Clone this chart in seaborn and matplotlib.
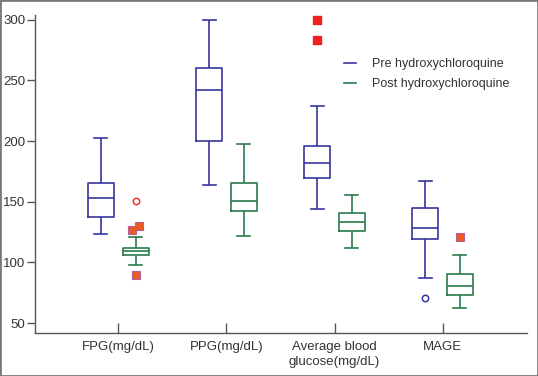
import numpy as np
import pandas as pd
import matplotlib
matplotlib.use("Agg")
import matplotlib.pyplot as plt
from matplotlib.lines import Line2D
from matplotlib.patches import Rectangle
import seaborn as sns

# ---- data (mg/dL) ----
measures = ["FPG(mg/dL)", "PPG(mg/dL)", "Average blood\nglucose(mg/dL)", "MAGE"]
phases = ["Pre hydroxychloroquine", "Post hydroxychloroquine"]

# five-number summaries: whisker low, Q1, median, Q3, whisker high
pre_low = [123.4, 163.9, 143.8, 86.9]
pre_q1 = [137.2, 200.0, 169.6, 119.6]
pre_med = [152.9, 242.5, 182.3, 128.4]
pre_q3 = [165.8, 260.1, 196.0, 145.1]
pre_high = [202.4, 300.0, 229.0, 166.9]

post_low = [97.6, 121.8, 112.2, 62.1]
post_q1 = [105.8, 142.4, 125.9, 73.4]
post_med = [109.8, 150.4, 133.6, 80.8]
post_q3 = [112.2, 165.8, 140.8, 90.4]
post_high = [120.7, 197.7, 155.6, 105.8]

# outside values: measure index, phase index, value, kind
out_measure = [0, 0, 0, 0, 2, 2, 3, 3]
out_phase = [1, 1, 1, 1, 0, 0, 0, 1]
out_value = [150.4, 127.0, 130.0, 89.4, 299.5, 283.0, 70.4, 121.0]
out_kind = ["circle", "square", "square", "square", "far", "far", "circle", "square"]
out_shift = [0, -0.035, 0.03, 0, 0, 0, 0, 0]

blue = "#36369e"
green = "#2b7a4b"
colors = [blue, green]

rows = []
for i, m in enumerate(measures):
    for v in [pre_low[i], pre_q1[i], pre_med[i], pre_q3[i], pre_high[i]]:
        rows.append((m, phases[0], v))
    for v in [post_low[i], post_q1[i], post_med[i], post_q3[i], post_high[i]]:
        rows.append((m, phases[1], v))
df = pd.DataFrame(rows, columns=["measure", "phase", "value"])

plt.rcParams["font.family"] = ["Liberation Sans", "DejaVu Sans"]

fig = plt.figure(figsize=(5.38, 3.76), dpi=100)
ax = fig.add_axes([35 / 538, 43 / 376, 492 / 538, 318 / 376])

width = 0.64
gap = 0.25
sns.boxplot(data=df, x="measure", y="value", hue="phase", order=measures,
            hue_order=phases, palette=colors, fill=False, width=width, gap=gap,
            whis=(0, 100), linewidth=1.2, legend=False, ax=ax)

# outside values
offsets = [-width / 4, width / 4]
for mi, pi, v, k, s in zip(out_measure, out_phase, out_value, out_kind, out_shift):
    x = mi + offsets[pi] + s
    if k == "circle":
        c = "#ee3333" if pi == 1 else blue
        ax.plot(x, v, marker="o", ms=4.6, mfc="white", mec=c, mew=1.1, ls="none")
    elif k == "square":
        ax.plot(x, v, marker="s", ms=5.2, mfc="#ef5a1e", mec="#b0609a", mew=0.8, ls="none")
    else:
        ax.plot(x, v, marker="s", ms=5.5, mfc="#ee2020", mec="#ee2020", ls="none")

ax.set_xlim(-0.77, 3.78)
ax.set_ylim(41.8, 304)
ax.set_yticks([50, 100, 150, 200, 250, 300])
ax.set_xlabel("")
ax.set_ylabel("")
for lab in ax.get_xticklabels():
    lab.set_linespacing(1.35)

for sp in ["top", "right"]:
    ax.spines[sp].set_visible(False)
for sp in ["left", "bottom"]:
    ax.spines[sp].set_color("#555555")
    ax.spines[sp].set_linewidth(1.0)

ax.tick_params(axis="y", direction="out", length=6, width=1, color="#555555",
               labelsize=9.5, labelcolor="#333333", pad=1)
ax.tick_params(axis="x", direction="in", length=7, width=1, color="#555555",
               labelsize=9.5, labelcolor="#333333", pad=6)

handles = [Line2D([0], [0], color=c, lw=1.2) for c in colors]
ax.legend(handles, phases, loc="upper left", bbox_to_anchor=(0.605, 0.9),
          frameon=False, fontsize=9, handlelength=0.95, handletextpad=1.3,
          labelspacing=0.65, labelcolor="#333333")

fig.patches.append(Rectangle((0, 0), 1, 1, transform=fig.transFigure,
                             fill=False, edgecolor="#7a7a7a", lw=2))

fig.savefig("out.png", dpi=100)
